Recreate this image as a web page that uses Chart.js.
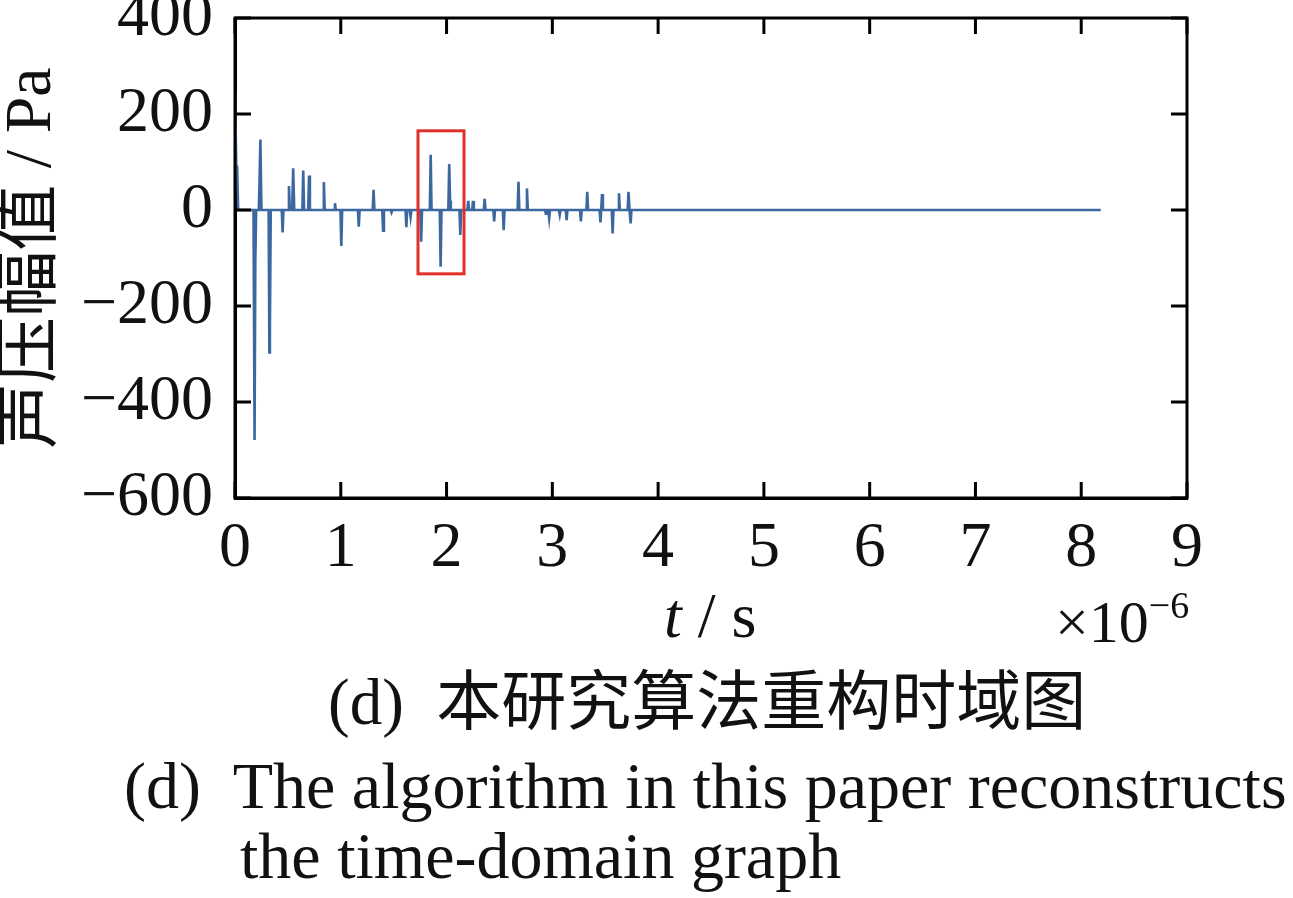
<!DOCTYPE html>
<html><head><meta charset="utf-8">
<script src="https://cdn.jsdelivr.net/npm/chart.js@4/dist/chart.umd.min.js"></script>
<style>
html,body{margin:0;padding:0;background:#fff;}
#wrap{position:relative;width:1293px;height:898px;overflow:hidden;background:#fff;}
.t{position:absolute;font-family:"Liberation Serif","Noto Sans CJK SC",serif;color:#111;white-space:pre;line-height:1;}
</style></head><body>
<div id="wrap">
<canvas id="c" width="1293" height="898"></canvas>
<div class="t" style="left:664px;top:584px;font-size:64px"><i>t</i> / s</div>
<div class="t" style="left:1055px;top:592px;font-size:60px">×10<span style="font-size:38px;position:relative;top:-24px">−6</span></div>
<div class="t" style="left:328px;top:670px;font-size:65px">(d)  本研究算法重构时域图</div>
<div class="t" style="left:124px;top:753px;font-size:66px">(d)  The algorithm in this paper reconstructs</div>
<div class="t" style="left:240px;top:823px;font-size:66px">the time-domain graph</div>
</div>
<script>
// Time axis values (×10^-6 s)
const timeUs = [
  0, 0.012, 0.02, 0.03,
  0.175, 0.185, 0.192, 0.2,
  0.225, 0.232, 0.24, 0.25,
  0.318, 0.325, 0.33, 0.338,
  0.442, 0.45, 0.458,
  0.502, 0.51, 0.518,
  0.54, 0.55, 0.56,
  0.637, 0.645, 0.653,
  0.692, 0.70, 0.708,
  0.832, 0.84, 0.848,
  0.937, 0.945, 0.953,
  0.997, 1.005, 1.013,
  1.162, 1.17, 1.178,
  1.302, 1.31, 1.318,
  1.392, 1.40, 1.408,
  1.472, 1.48, 1.488,
  1.612, 1.62, 1.628,
  1.652, 1.66, 1.668,
  1.752, 1.76, 1.768,
  1.842, 1.85, 1.858,
  1.936, 1.944, 1.952,
  2.017, 2.025, 2.033, 2.04,
  2.122, 2.13, 2.138,
  2.197, 2.205, 2.213,
  2.242, 2.25, 2.258,
  2.352, 2.36, 2.368,
  2.442, 2.45, 2.458,
  2.532, 2.54, 2.548,
  2.672, 2.68, 2.688,
  2.752, 2.76, 2.768,
  2.932, 2.94, 2.948,
  2.962, 2.97, 2.978,
  3.062, 3.07, 3.078,
  3.127, 3.135, 3.143,
  3.262, 3.27, 3.278,
  3.322, 3.33, 3.338,
  3.447, 3.455, 3.462, 3.47, 3.478,
  3.562, 3.57, 3.578,
  3.622, 3.63, 3.638,
  3.712, 3.72, 3.73, 3.74, 3.748,
  8.185
];
// Sound pressure amplitude (Pa)
const pressurePa = [
  245, 90, 90, 0,
  0, -479, -110, 0,
  0, 60, 147, 0,
  0, -297, -250, 0,
  0, -47, 0,
  0, 50, 0,
  0, 87, 0,
  0, 82, 0,
  0, 72, 0,
  0, 58, 0,
  0, 14, 0,
  0, -75, 0,
  0, -35, 0,
  0, 42, 0,
  0, -43, 0,
  0, -5, 0,
  0, -36, 0,
  0, -14, 0,
  0, -66, 0,
  0, 115, 0,
  0, -118, 0,
  0, 96, 20, 0,
  0, -52, 0,
  0, 19, 0,
  0, 19, 0,
  0, 23, 0,
  0, -24, 0,
  0, -42, 0,
  0, 59, 0,
  0, 45, 0,
  0, -10, 0,
  0, -17, 0,
  0, -10, 0,
  0, -21, 0,
  0, -24, 0,
  0, 38, 0,
  0, -26, 0, 33, 0,
  0, -49, 0,
  0, 35, 0,
  0, 38, 0, -28, 0,
  0
];
const xTicks = [0,1,2,3,4,5,6,7,8,9];
const yTicks = [-600,-400,-200,0,200,400];
// highlighted region [tStart, tEnd, pMin, pMax]
const highlightBox = [1.73, 2.165, -133, 165];

const points = timeUs.map((t, i) => ({x: t, y: pressurePa[i]}));

const framePlugin = {
  id: 'frame',
  afterDatasetsDraw(chart) {
    const {ctx, chartArea: a, scales: {x, y}} = chart;
    ctx.save();
    ctx.strokeStyle = '#e0302a';
    ctx.lineWidth = 3;
    const bx1 = x.getPixelForValue(highlightBox[0]), bx2 = x.getPixelForValue(highlightBox[1]);
    const by1 = y.getPixelForValue(highlightBox[3]), by2 = y.getPixelForValue(highlightBox[2]);
    ctx.strokeRect(bx1, by1, bx2 - bx1, by2 - by1);
    ctx.strokeStyle = '#000';
    ctx.lineWidth = 3;
    ctx.strokeRect(a.left, a.top, a.right - a.left, a.bottom - a.top);
    const L = 16;
    ctx.beginPath();
    xTicks.forEach(v => {
      const px = x.getPixelForValue(v);
      ctx.moveTo(px, a.bottom); ctx.lineTo(px, a.bottom - L);
      ctx.moveTo(px, a.top); ctx.lineTo(px, a.top + L);
    });
    yTicks.forEach(v => {
      const py = y.getPixelForValue(v);
      ctx.moveTo(a.left, py); ctx.lineTo(a.left + L, py);
      ctx.moveTo(a.right, py); ctx.lineTo(a.right - L, py);
    });
    ctx.stroke();
    ctx.restore();
  }
};

new Chart(document.getElementById('c'), {
  type: 'line',
  data: {
    datasets: [{
      data: points,
      borderColor: '#3c679f',
      borderWidth: 2.6,
      pointRadius: 0,
      tension: 0,
      fill: false
    }]
  },
  options: {
    responsive: false,
    animation: false,
    layout: {padding: {top: 18, right: 106, bottom: 0, left: 0}},
    plugins: {legend: {display: false}, tooltip: {enabled: false}},
    scales: {
      x: {
        type: 'linear', min: 0, max: 9,
        grid: {display: false, drawTicks: false},
        border: {display: true, color: '#000', width: 3},
        ticks: {
          stepSize: 1, padding: 13, color: '#111',
          font: {family: 'Liberation Serif', size: 64},
          maxRotation: 0, autoSkip: false
        },
        afterFit(s) { s.height = 400; s.paddingLeft = 0; s.paddingRight = 0; }
      },
      y: {
        type: 'linear', min: -600, max: 400,
        grid: {display: false, drawTicks: false},
        border: {display: true, color: '#000', width: 3},
        ticks: {
          stepSize: 200, padding: 22, color: '#111',
          font: {family: 'Liberation Serif', size: 64},
          callback: v => String(v).replace('-', '\u2212')
        },
        title: {
          display: true, text: '声压幅值 / Pa', color: '#111', padding: 0,
          font: {family: 'Liberation Serif, Noto Sans CJK SC', size: 66, lineHeight: 1.0}
        },
        afterFit(s) { s.width = 235; s.paddingTop = 0; s.paddingBottom = 0; }
      }
    }
  },
  plugins: [framePlugin]
});
</script>
</body></html>
